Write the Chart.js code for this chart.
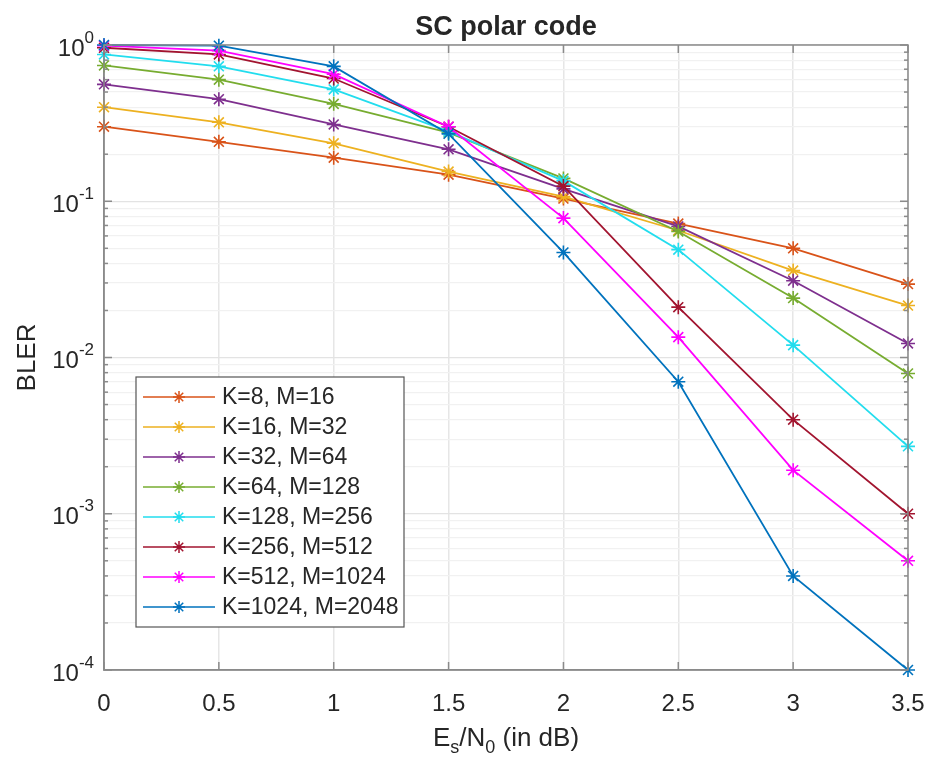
<!DOCTYPE html>
<html>
<head>
<meta charset="utf-8">
<title>SC polar code</title>
<script src="https://cdn.jsdelivr.net/npm/chart.js@4.4.1/dist/chart.umd.min.js"></script>
<style>
  html, body { margin: 0; padding: 0; background: #fff; }
  canvas { display: block; }
</style>
</head>
<body>
<canvas id="blerChart" width="928" height="760"></canvas>
<script>
// x grid (Es/N0 in dB) and tick labels
const esn0 = [0, 0.5, 1, 1.5, 2, 2.5, 3, 3.5];
const xTickLabels = ['0', '0.5', '1', '1.5', '2', '2.5', '3', '3.5'];
const yExponents = [0, -1, -2, -3, -4]; // decades shown on the BLER axis

const seriesLabels = [
  'K=8, M=16', 'K=16, M=32', 'K=32, M=64', 'K=64, M=128',
  'K=128, M=256', 'K=256, M=512', 'K=512, M=1024', 'K=1024, M=2048'
];

// BLER
const bler_K8    = [0.30, 0.24, 0.19, 0.148, 0.104, 0.072, 0.050, 0.0295];
const bler_K16   = [0.40, 0.32, 0.235, 0.155, 0.107, 0.065, 0.036, 0.0215];
const bler_K32   = [0.56, 0.45, 0.31, 0.215, 0.12, 0.069, 0.031, 0.0123];
const bler_K64   = [0.74, 0.60, 0.42, 0.275, 0.14, 0.064, 0.024, 0.0079];
const bler_K128  = [0.87, 0.73, 0.52, 0.28, 0.135, 0.049, 0.012, 0.0027];
const bler_K256  = [0.96, 0.87, 0.61, 0.30, 0.125, 0.021, 0.004, 0.001];
const bler_K512  = [0.99, 0.92, 0.65, 0.30, 0.078, 0.0135, 0.0019, 0.0005];
const bler_K1024 = [1.0, 0.99, 0.73, 0.27, 0.047, 0.007, 0.0004, 0.0001];

const allSeries = [bler_K8, bler_K16, bler_K32, bler_K64, bler_K128, bler_K256, bler_K512, bler_K1024];
const seriesColors = ['#D95319', '#EDB120', '#7E2F8E', '#77AC30', '#22DDEE', '#A2142F', '#FF00FF', '#0072BD'];

const FONT = "'Liberation Sans', Arial, Helvetica, sans-serif";
const textColor = '#262626';
const axisColor = '#8a8a8a';

function isDecade(v) {
  const l = Math.log10(v);
  return Math.abs(l - Math.round(l)) < 1e-9;
}

function drawStar(ctx, x, y, r) {
  ctx.beginPath();
  for (let k = 0; k < 4; k++) {
    const a = k * Math.PI / 4;
    const dx = Math.cos(a) * r, dy = Math.sin(a) * r;
    ctx.moveTo(x - dx, y - dy);
    ctx.lineTo(x + dx, y + dy);
  }
  ctx.stroke();
}

function seg(ctx, x1, y1, x2, y2) {
  ctx.beginPath();
  ctx.moveTo(x1, y1);
  ctx.lineTo(x2, y2);
  ctx.stroke();
}

// matlab-ish frame, labels with sub/superscripts and in-axes legend
const matlabAxes = {
  id: 'matlabAxes',
  beforeDraw(chart) {
    const ctx = chart.ctx;
    ctx.save();
    ctx.fillStyle = '#fff';
    ctx.fillRect(0, 0, chart.width, chart.height);
    ctx.restore();
  },
  afterDraw(chart) {
    const { ctx, chartArea: a, scales: { x, y } } = chart;
    ctx.save();

    // box + inward tick marks
    ctx.strokeStyle = axisColor;
    ctx.lineWidth = 1.5;
    ctx.strokeRect(a.left, a.top, a.right - a.left, a.bottom - a.top);
    x.ticks.forEach(t => {
      const px = x.getPixelForValue(t.value);
      seg(ctx, px, a.bottom, px, a.bottom - 8);
      seg(ctx, px, a.top, px, a.top + 8);
    });
    y.ticks.forEach(t => {
      const py = y.getPixelForValue(t.value);
      const len = isDecade(t.value) ? 8 : 4;
      seg(ctx, a.left, py, a.left + len, py);
      seg(ctx, a.right, py, a.right - len, py);
    });

    // y tick labels: 10^e
    ctx.fillStyle = textColor;
    ctx.textBaseline = 'middle';
    yExponents.forEach(e => {
      const py = y.getPixelForValue(Math.pow(10, e));
      const expText = e === 0 ? '0' : '-' + Math.abs(e);
      ctx.font = '17px ' + FONT;
      const ew = ctx.measureText(expText).width;
      const right = a.left - 10;
      ctx.textAlign = 'left';
      ctx.fillText(expText, right - ew, py - 7);
      ctx.font = '24px ' + FONT;
      ctx.textAlign = 'right';
      ctx.fillText('10', right - ew, py + 4);
    });

    // title
    ctx.font = 'bold 27px ' + FONT;
    ctx.textAlign = 'center';
    ctx.fillText('SC polar code', (a.left + a.right) / 2, 28);

    // x label: E_s/N_0 (in dB)
    const parts = [
      { t: 'E', sub: false }, { t: 's', sub: true }, { t: '/N', sub: false },
      { t: '0', sub: true }, { t: ' (in dB)', sub: false }
    ];
    const big = '26px ' + FONT, small = '18px ' + FONT;
    let total = 0;
    parts.forEach(p => { ctx.font = p.sub ? small : big; p.w = ctx.measureText(p.t).width; total += p.w; });
    let cx = (a.left + a.right) / 2 - total / 2;
    const ly0 = 739;
    ctx.textAlign = 'left';
    parts.forEach(p => {
      ctx.font = p.sub ? small : big;
      ctx.fillText(p.t, cx, p.sub ? ly0 + 9 : ly0);
      cx += p.w;
    });

    // legend
    const bx = 136, by = 377, bw = 268, bh = 250;
    ctx.fillStyle = '#fff';
    ctx.fillRect(bx, by, bw, bh);
    ctx.strokeStyle = '#555';
    ctx.lineWidth = 1.2;
    ctx.strokeRect(bx, by, bw, bh);
    chart.data.datasets.forEach((ds, i) => {
      const cy = 397 + i * 30;
      ctx.strokeStyle = ds.borderColor;
      ctx.lineWidth = 1.5;
      seg(ctx, 143, cy, 215, cy);
      drawStar(ctx, 179, cy, 6);
      ctx.fillStyle = textColor;
      ctx.font = '23px ' + FONT;
      ctx.textAlign = 'left';
      ctx.fillText(ds.label, 222, cy + 1);
    });

    ctx.restore();
  }
};

const datasets = allSeries.map((vals, i) => ({
  label: seriesLabels[i],
  data: esn0.map((xv, j) => ({ x: xv, y: vals[j] })),
  borderColor: seriesColors[i],
  backgroundColor: seriesColors[i],
  borderWidth: 1.8,
  pointStyle: 'star',
  pointRadius: 7,
  pointBorderWidth: 1.6,
  pointHoverRadius: 7,
  tension: 0,
  clip: false,
  order: -i
}));

new Chart(document.getElementById('blerChart').getContext('2d'), {
  type: 'line',
  data: { datasets },
  options: {
    responsive: false,
    animation: false,
    events: [],
    layout: { padding: { top: 45, right: 20, left: 0, bottom: 0 } },
    plugins: {
      legend: { display: false },
      title: { display: false },
      tooltip: { enabled: false }
    },
    scales: {
      x: {
        type: 'linear',
        min: 0,
        max: 3.5,
        afterBuildTicks: (scale) => {
          scale.ticks = esn0.map(v => ({ value: v }));
        },
        afterFit: (scale) => {
          scale.height = 90;
          scale.paddingLeft = 0;
          scale.paddingRight = 0;
        },
        ticks: {
          font: { family: FONT, size: 24 },
          color: textColor,
          padding: 20,
          maxRotation: 0,
          autoSkip: false,
          callback: (v, i) => xTickLabels[i]
        },
        grid: { color: '#e6e6e6', lineWidth: 1.5, drawTicks: false },
        border: { display: true, color: axisColor, width: 1.5 }
      },
      y: {
        type: 'logarithmic',
        min: 1e-4,
        max: 1,
        afterBuildTicks: (scale) => {
          const t = [];
          yExponents.slice().reverse().forEach(e => {
            const n = e === 0 ? 1 : 9;
            for (let s = 1; s <= n; s++) t.push({ value: Number((s * Math.pow(10, e)).toPrecision(2)) });
          });
          scale.ticks = t;
        },
        afterFit: (scale) => { scale.width = 104; },
        ticks: { display: false, autoSkip: false },
        grid: {
          drawTicks: false,
          lineWidth: 1.2,
          color: (ctx) => (ctx.tick && isDecade(ctx.tick.value)) ? '#e3e3e3' : '#f1f1f1'
        },
        border: { display: true, color: axisColor, width: 1.5 },
        title: {
          display: true,
          text: 'BLER',
          color: textColor,
          font: { family: FONT, size: 26 },
          padding: { top: 12, bottom: 0 }
        }
      }
    }
  },
  plugins: [matlabAxes]
});
</script>
</body>
</html>
